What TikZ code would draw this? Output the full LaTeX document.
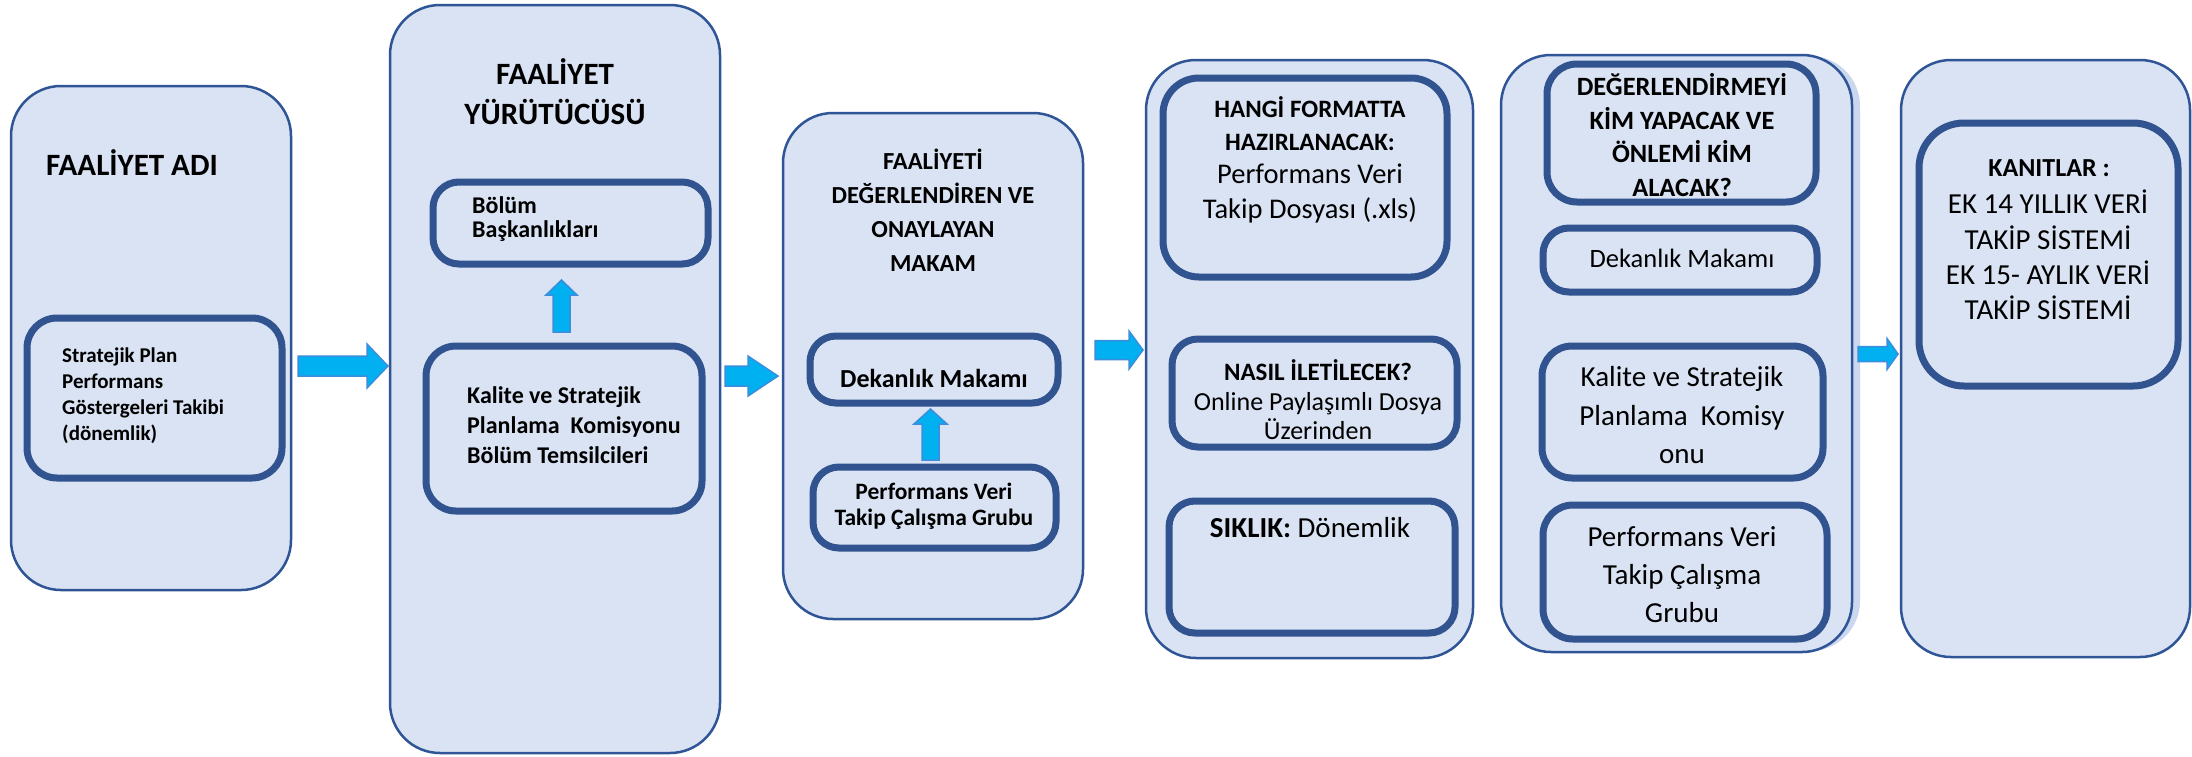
\documentclass[tikz,border=0pt]{standalone}
\usepackage{fontspec}
\setmainfont{Carlito}
\definecolor{boxfill}{HTML}{DAE3F3}
\definecolor{obord}{HTML}{2F5597}
\definecolor{ibord}{HTML}{31538F}
\definecolor{arrfill}{HTML}{00B0F0}
\definecolor{arrline}{HTML}{3C8DDB}
\definecolor{shadowc}{HTML}{CBD7EF}
\newcommand\fsz[2]{\fontsize{#1}{#2}\selectfont}
\newcommand\harrow[6]{\draw[barrow] (#1,#4-#5) -- (#2,#4-#5) -- (#2,#4-#6) -- (#3,#4) -- (#2,#4+#6) -- (#2,#4+#5) -- (#1,#4+#5) -- cycle;}
\newcommand\uarrow[6]{\draw[barrow] (#1-#5,#4) -- (#1-#5,#3) -- (#1-#6,#3) -- (#1,#2) -- (#1+#6,#3) -- (#1+#5,#3) -- (#1+#5,#4) -- cycle;}
\tikzset{
  obox/.style={draw=obord, line width=2.5pt, fill=boxfill, rounded corners=50pt, inner sep=0pt},
  ibox/.style={draw=ibord, line width=7pt, rounded corners=26pt, inner sep=0pt},
  barrow/.style={fill=arrfill, draw=arrline, line width=1.5pt, line join=miter},
  txt/.style={inner sep=0pt, text=black},
}
\begin{document}
\begin{tikzpicture}[x=1pt,y=-1pt]
\useasboundingbox (0,0) rectangle (2192,756);
\fill[white] (0,0) rectangle (2192,756);

% outer boxes
\node[obox, minimum width=280pt, minimum height=504pt] (B1) at (151,338) {};
\node[obox, minimum width=330pt, minimum height=748pt] (B2) at (555,379) {};
\node[obox, minimum width=300pt, minimum height=506pt] (B3) at (933,366) {};
\node[obox, minimum width=327pt, minimum height=598pt] (B4) at (1309.5,359) {};
\fill[shadowc, rounded corners=50pt] (1508,56) rectangle (1860,651);
\node[obox, minimum width=351pt, minimum height=597pt] (B5) at (1676.5,353.5) {};
\node[obox, minimum width=289pt, minimum height=597pt] (B6) at (2045.5,358.5) {};

% inner boxes
\node[ibox, rounded corners=30pt, minimum width=255pt, minimum height=160pt] (I1) at (154.5,398) {};
\node[ibox, minimum width=275pt, minimum height=82pt] (I2a) at (570.5,223) {};
\node[ibox, rounded corners=30pt, minimum width=276pt, minimum height=165pt] (I2b) at (564,428.5) {};
\node[ibox, minimum width=248pt, minimum height=67pt] (I3a) at (934,369.5) {};
\node[ibox, minimum width=243pt, minimum height=81pt] (I3b) at (934.5,507.5) {};
\node[ibox, rounded corners=36pt, minimum width=284pt, minimum height=199pt] (I4a) at (1305,177.5) {};
\node[ibox, minimum width=285pt, minimum height=108pt] (I4b) at (1314.5,393) {};
\node[ibox, minimum width=286pt, minimum height=132pt] (I4c) at (1312,567) {};
\node[ibox, rounded corners=30pt, minimum width=269pt, minimum height=138pt] (I5a) at (1681.5,133) {};
\node[ibox, minimum width=274pt, minimum height=64pt] (I5b) at (1680,260) {};
\node[ibox, rounded corners=30pt, minimum width=281pt, minimum height=132pt] (I5c) at (1682.5,412) {};
\node[ibox, rounded corners=30pt, minimum width=284pt, minimum height=134pt] (I5d) at (1685,572) {};
\node[ibox, rounded corners=45pt, minimum width=259pt, minimum height=263pt] (I6) at (2048.5,254.5) {};

% block arrows
\harrow{298}{367}{388}{366}{10}{22}
\harrow{725}{748}{778}{376}{10}{20}
\harrow{1095}{1129}{1143}{350}{9.5}{19}
\harrow{1858}{1887}{1898}{354}{7.5}{15.5}
\uarrow{561.5}{280}{295}{332}{8.5}{15.5}
\uarrow{930.5}{409}{424}{460}{8.5}{16.5}

% texts box 1
\node[txt, anchor=west, font=\fsz{31}{36}\bfseries] (T1) at (46,163) {FAALİYET ADI};
\node[txt, anchor=west, align=left, font=\fsz{21}{26}\bfseries] (T1i) at (62,396) {Stratejik Plan\\Performans\\Göstergeleri Takibi\\(dönemlik)};

% box 2
\node[txt, align=center, font=\fsz{31}{40}\bfseries] (T2) at (555,92) {FAALİYET\\YÜRÜTÜCÜSÜ};
\node[txt, anchor=west, align=left, font=\fsz{24}{23.5}\bfseries] (T2a) at (472,219) {Bölüm\\Başkanlıkları};
\node[txt, anchor=west, align=left, font=\fsz{24}{30}\bfseries] (T2b) at (467,425) {Kalite ve Stratejik\\Planlama\ \ Komisyonu\\Bölüm Temsilcileri};

% box 3
\node[txt, align=center, font=\fsz{24.5}{34}\bfseries] (T3) at (933,210) {FAALİYETİ\\DEĞERLENDİREN VE\\ONAYLAYAN\\MAKAM};
\node[txt, font=\fsz{26}{30}\bfseries] (T3a) at (934,378) {Dekanlık Makamı};
\node[txt, align=center, font=\fsz{23.5}{26}\bfseries] (T3b) at (934,506) {Performans Veri\\Takip Çalışma Grubu};

% box 4
\node[txt, align=center, font=\fsz{25}{33}\bfseries] (T4a1) at (1310,124) {HANGİ FORMATTA\\HAZIRLANACAK:};
\node[txt, align=center, font=\fsz{28.5}{35}] (T4a2) at (1310,193) {Performans Veri\\Takip Dosyası (.xls)};
\node[txt, font=\fsz{25}{30}\bfseries] (T4b1) at (1318,370) {NASIL İLETİLECEK?};
\node[txt, align=center, font=\fsz{26}{29}] (T4b2) at (1318,416) {Online Paylaşımlı Dosya\\Üzerinden};
\node[txt, font=\fsz{29}{34}] (T4c) at (1310,528) {\textbf{SIKLIK:} Dönemlik};

% box 5
\node[txt, align=center, font=\fsz{26.4}{33.7}\bfseries] (T5a) at (1682,135) {DEĞERLENDİRMEYİ\\KİM YAPACAK VE\\ÖNLEMİ KİM\\ALACAK?};
\node[txt, font=\fsz{26.5}{30}] (T5b) at (1682,258) {Dekanlık Makamı};
\node[txt, align=center, font=\fsz{29}{38.5}] (T5c) at (1682,415.5) {Kalite ve Stratejik\\Planlama\ \ Komisy\\onu};
\node[txt, align=center, font=\fsz{29}{38}] (T5d) at (1682,575) {Performans Veri\\Takip Çalışma\\Grubu};

% box 6
\node[txt, font=\fsz{26}{30}\bfseries] (T6a) at (2049,168) {KANITLAR :};
\node[txt, align=center, font=\fsz{29}{35.3}] (T6b) at (2048,255) {EK 14 YILLIK VERİ\\TAKİP SİSTEMİ\\EK 15- AYLIK VERİ\\TAKİP SİSTEMİ};
\end{tikzpicture}
\end{document}
